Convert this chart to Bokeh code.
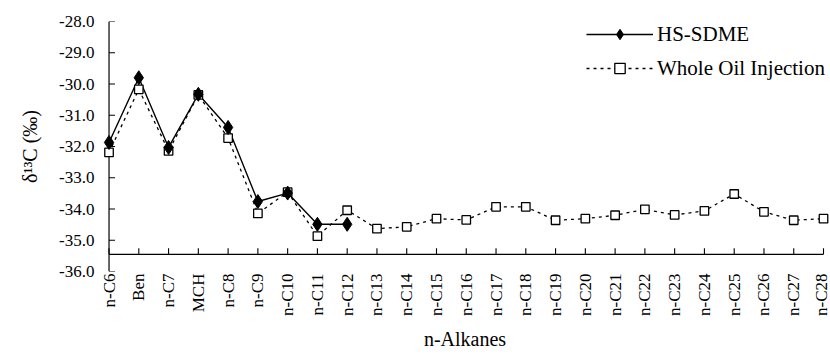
import math
from bokeh.plotting import figure
from bokeh.models import Range1d, FixedTicker, NumeralTickFormatter, Legend, LegendItem, ColumnDataSource
from bokeh.embed import file_html
from bokeh.resources import INLINE

categories = ["n-C6", "Ben", "n-C7", "MCH", "n-C8", "n-C9", "n-C10", "n-C11", "n-C12",
              "n-C13", "n-C14", "n-C15", "n-C16", "n-C17", "n-C18", "n-C19", "n-C20",
              "n-C21", "n-C22", "n-C23", "n-C24", "n-C25", "n-C26", "n-C27", "n-C28"]
hs_sdme = [-31.87, -29.80, -32.03, -30.33, -31.39, -33.76, -33.49, -34.49, -34.49]
whole_oil = [-32.19, -30.17, -32.14, -30.35, -31.73, -34.14, -33.46, -34.87, -34.04,
             -34.63, -34.57, -34.31, -34.35, -33.93, -33.93, -34.36, -34.31, -34.20,
             -34.01, -34.19, -34.06, -33.52, -34.09, -34.36, -34.31]
y_ticks = [-36, -35, -34, -33, -32, -31, -30, -29, -28]

FONT = "Liberation Serif"

# layout (pixels)
W, H = 830, 354
LEFT, RIGHT, TOP, BOTTOM = 99, 0, 21, 83
X0, X1 = -0.32, 24.235
Y0, Y1 = -36.0, -28.0
X_CROSS = -35.45          # where the category axis crosses the value axis
TICK_PX = 6
fw = W - LEFT - RIGHT
fh = H - TOP - BOTTOM
dx_tick = TICK_PX * (X1 - X0) / fw
dy_tick = TICK_PX * (Y1 - Y0) / fh

hs_src = ColumnDataSource(dict(x=list(range(len(hs_sdme))), y=hs_sdme))
wo_src = ColumnDataSource(dict(x=list(range(len(whole_oil))), y=whole_oil))

p = figure(width=W, height=H, output_backend="svg", toolbar_location=None,
           x_range=Range1d(X0, X1), y_range=Range1d(Y0, Y1),
           min_border_left=LEFT, min_border_right=RIGHT, min_border_top=TOP,
           min_border_bottom=BOTTOM)
p.outline_line_color = None
p.xgrid.visible = False
p.ygrid.visible = False
p.background_fill_color = "white"

# axis lines and inward ticks drawn at the crossing positions
n = len(categories)
p.segment(x0=[0], y0=[Y0], x1=[0], y1=[Y1], line_color="black", line_width=1.2)
p.segment(x0=[0], y0=[X_CROSS], x1=[n - 1], y1=[X_CROSS], line_color="black", line_width=1.2)
p.segment(x0=[0] * len(y_ticks), y0=y_ticks, x1=[dx_tick] * len(y_ticks), y1=y_ticks,
          line_color="black", line_width=1.1)
p.segment(x0=list(range(n)), y0=[X_CROSS] * n, x1=list(range(n)), y1=[X_CROSS + dy_tick] * n,
          line_color="black", line_width=1.1)

wo_line = p.line("x", "y", source=wo_src, line_color="black", line_width=1.3, line_dash="3 4")
hs_line = p.line("x", "y", source=hs_src, line_color="black", line_width=1.4)
wo_pts = p.scatter("x", "y", source=wo_src, marker="square", size=8.5, fill_color="white",
                   line_color="black", line_width=1.3)
hs_pts = p.scatter("x", "y", source=hs_src, marker="diamond", size=14,
                   fill_color="black", line_color="black", line_width=1)

# y axis (labels only)
ya = p.yaxis[0]
ya.ticker = FixedTicker(ticks=y_ticks)
ya.formatter = NumeralTickFormatter(format="0.0")
ya.axis_line_color = None
ya.major_tick_line_color = None
ya.minor_tick_line_color = None
ya.major_tick_out = 0
ya.major_tick_in = 0
ya.major_label_standoff = 5
ya.major_label_text_font = FONT
ya.major_label_text_font_size = "17px"
ya.major_label_text_color = "black"
ya.axis_label = "δ¹³C (‰)"
ya.axis_label_text_font = FONT
ya.axis_label_text_font_style = "normal"
ya.axis_label_text_font_size = "20px"
ya.axis_label_text_color = "black"
ya.axis_label_standoff = 15

# x axis (labels only)
xa = p.xaxis[0]
xa.ticker = FixedTicker(ticks=list(range(n)))
xa.major_label_overrides = {i: c for i, c in enumerate(categories)}
xa.major_label_orientation = math.pi / 2
xa.axis_line_color = None
xa.major_tick_line_color = None
xa.minor_tick_line_color = None
xa.major_tick_out = 0
xa.major_tick_in = 0
xa.major_label_standoff = 2
xa.major_label_text_font = FONT
xa.major_label_text_font_size = "17px"
xa.major_label_text_color = "black"
xa.axis_label = "n-Alkanes"
xa.axis_label_text_font = FONT
xa.axis_label_text_font_style = "normal"
xa.axis_label_text_font_size = "20px"
xa.axis_label_text_color = "black"
xa.axis_label_standoff = 9

legend = Legend(items=[LegendItem(label="HS-SDME", renderers=[hs_line, hs_pts]),
                       LegendItem(label="Whole Oil Injection", renderers=[wo_line, wo_pts])],
                location=(487, 190), orientation="vertical")
legend.glyph_width = 67
legend.glyph_height = 26
legend.label_height = 26
legend.spacing = 8
legend.padding = 0
legend.margin = 0
legend.label_standoff = 4
legend.label_text_font = FONT
legend.label_text_font_size = "21px"
legend.label_text_color = "black"
legend.border_line_alpha = 0
legend.background_fill_alpha = 0
p.add_layout(legend, "center")

open("out.html", "w").write(file_html(p, INLINE))
